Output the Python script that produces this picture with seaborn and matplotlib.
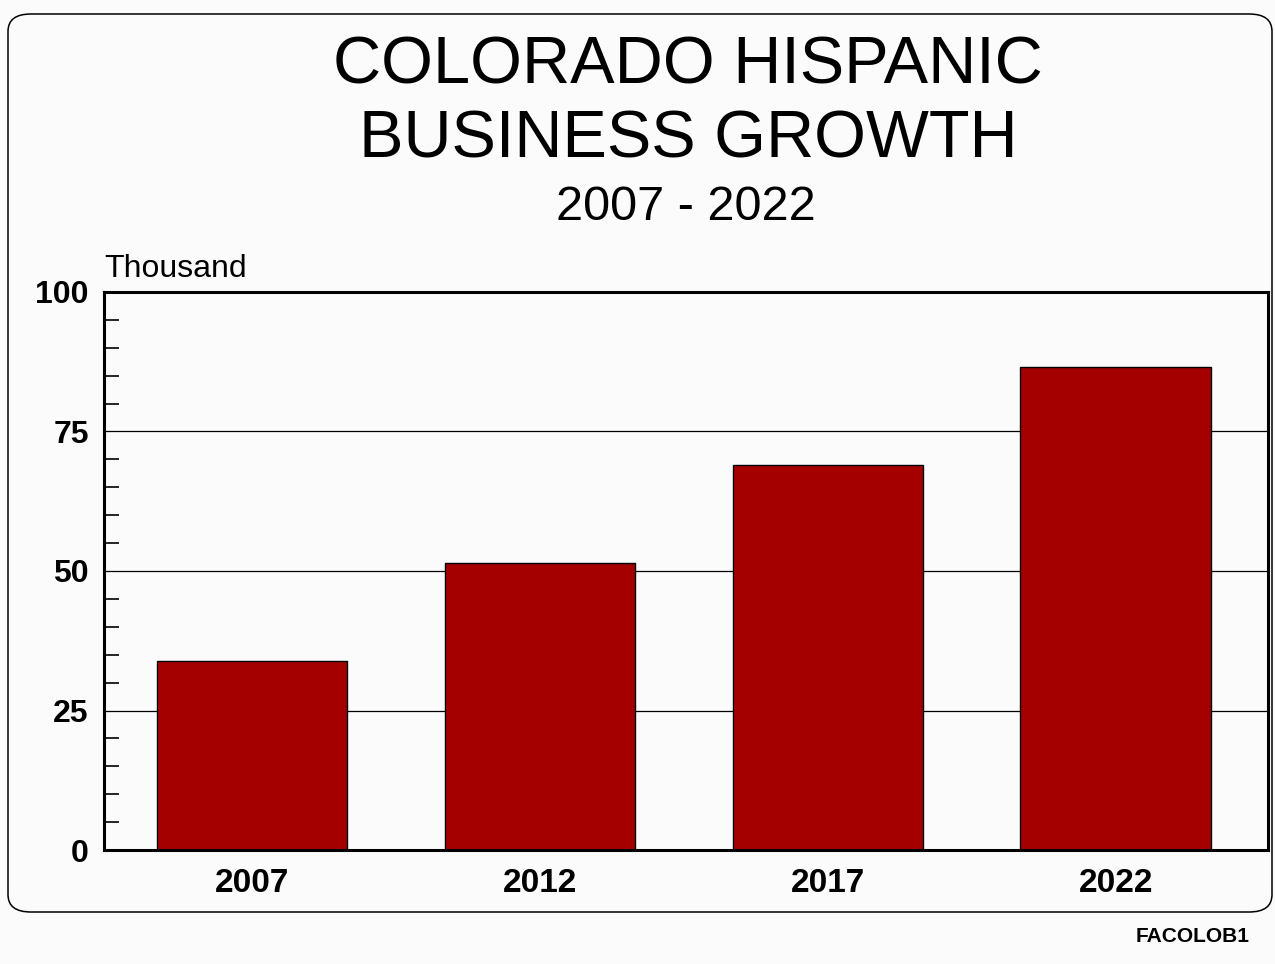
import matplotlib
matplotlib.use("Agg")
import matplotlib.pyplot as plt
from matplotlib.patches import FancyBboxPatch
from matplotlib.ticker import MultipleLocator
import seaborn as sns
import pandas as pd

# Hispanic-owned businesses in Colorado, thousands
years = ["2007", "2012", "2017", "2022"]
businesses = [33.9, 51.4, 69.0, 86.6]
y_ticks = [0, 25, 50, 75, 100]

title_lines = ["COLORADO HISPANIC", "BUSINESS GROWTH"]
subtitle = "2007 - 2022"
unit_label = "Thousand"
source_code = "FACOLOB1"

bar_color = "#a50000"
bg_color = "#fbfbfb"

sns.set_theme(style="white")
plt.rcParams["font.family"] = ["Liberation Sans", "DejaVu Sans"]
plt.rcParams["text.color"] = "black"
plt.rcParams["xtick.color"] = "black"
plt.rcParams["ytick.color"] = "black"

df = pd.DataFrame({"year": years, "value": businesses})

fig = plt.figure(figsize=(12.75, 9.64), dpi=100, facecolor=bg_color)

# rounded frame around the chart panel
frame = FancyBboxPatch((8 / 1275, 52 / 964), 1264 / 1275, 898 / 964,
                       boxstyle="round,pad=0,rounding_size=0.018",
                       transform=fig.transFigure, facecolor=bg_color,
                       edgecolor="black", linewidth=1.1, zorder=-5)
fig.patches.append(frame)

ax = fig.add_axes([104 / 1275, 114 / 964, 1164 / 1275, 558 / 964])
ax.set_zorder(2)
ax.set_facecolor(bg_color)

sns.barplot(data=df, x="year", y="value", color=bar_color, saturation=1,
            width=0.663, edgecolor="black", linewidth=1.0, ax=ax, zorder=3)

ax.set_xlim(-0.514, 3.528)
ax.set_ylim(0, 100)
ax.set_yticks(y_ticks)
ax.set_yticklabels([str(t) for t in y_ticks], fontsize=23, fontweight="bold")
ax.yaxis.set_minor_locator(MultipleLocator(5))
ax.tick_params(axis="y", which="minor", direction="in", length=11, width=1.2,
               color="black", left=True)
ax.tick_params(axis="y", which="major", length=0, pad=11)
ax.tick_params(axis="x", length=0, pad=13, labelsize=24)
for lbl in ax.get_xticklabels():
    lbl.set_fontweight("bold")

ax.grid(axis="y", which="major", color="black", linewidth=0.9, zorder=1)
ax.set_axisbelow(True)
ax.set_xlabel("")
ax.set_ylabel("")
for side in ax.spines.values():
    side.set_visible(True)
    side.set_color("black")
    side.set_linewidth(2.2)
    side.set_zorder(5)

ax.text(0.0, 1.015, unit_label, transform=ax.transAxes, fontsize=23,
        ha="left", va="bottom")

fig.text(688 / 1275, 1 - 66 / 964, title_lines[0], fontsize=48, ha="center", va="center")
fig.text(688 / 1275, 1 - 141 / 964, title_lines[1], fontsize=48, ha="center", va="center")
fig.text(686 / 1275, 1 - 207 / 964, subtitle, fontsize=35, ha="center", va="center")
fig.text(1250 / 1275, 1 - 936 / 964, source_code, fontsize=15, fontweight="bold",
         ha="right", va="center")

fig.savefig("out.png", dpi=100, facecolor=bg_color)
